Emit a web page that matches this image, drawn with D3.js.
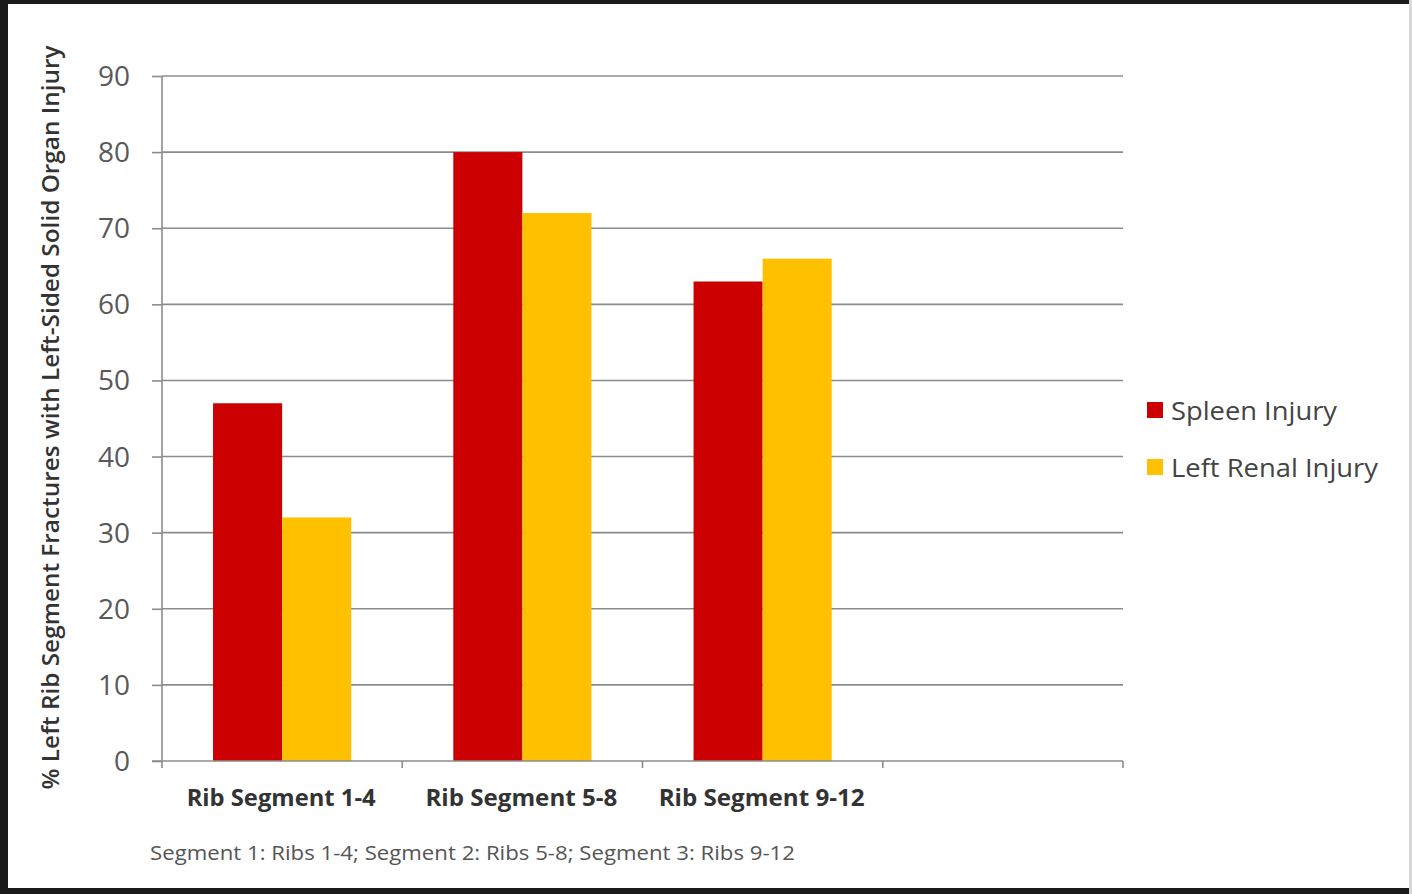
<!DOCTYPE html>
<html>
<head>
<meta charset="utf-8">
<script src="https://cdn.jsdelivr.net/npm/d3@7"></script>
<style>
  html, body { margin: 0; padding: 0; background: #fff; }
  svg { display: block; }
</style>
</head>
<body>
<svg id="chart" width="1412" height="894"></svg>
<script>
// Chart data
const categories = ["Rib Segment 1-4", "Rib Segment 5-8", "Rib Segment 9-12"];
const seriesNames = ["Spleen Injury", "Left Renal Injury"];
const spleenValues = [47, 80, 63];
const renalValues = [32, 72, 66];
const yTicks = [0, 10, 20, 30, 40, 50, 60, 70, 80, 90];
const seriesColors = ["#CC0000", "#FFC000"];
const yTitle = "% Left Rib Segment Fractures with Left-Sided Solid Organ Injury";
const footnote = "Segment 1: Ribs 1-4; Segment 2: Ribs 5-8; Segment 3: Ribs 9-12";

(function () {
const svg = d3.select("#chart");
const W = 1412, H = 894;
const font = "'Open Sans', 'Liberation Sans', sans-serif";

// Frame
svg.append("rect").attr("x", 0).attr("y", 0).attr("width", W).attr("height", H).attr("fill", "#fff");
svg.append("rect").attr("x", 0).attr("y", 0).attr("width", W).attr("height", 4).attr("fill", "#1a1a1a");
svg.append("rect").attr("x", 0).attr("y", 0).attr("width", 8).attr("height", H).attr("fill", "#1a1a1a");
svg.append("rect").attr("x", 0).attr("y", 888).attr("width", W).attr("height", 6).attr("fill", "#1a1a1a");
svg.append("rect").attr("x", 1409).attr("y", 0).attr("width", 3).attr("height", H).attr("fill", "#d8d8d8");

// Plot area: four category slots, the last one left empty
const plotLeft = 162, plotRight = 1123, plotTop = 76, plotBottom = 761;
const slot = (plotRight - plotLeft) / 4;

const x = d3.scaleBand().domain(categories).range([plotLeft, plotLeft + slot * categories.length]);
const xSub = d3.scaleBand().domain(seriesNames).range([0, x.bandwidth()]).paddingInner(0).paddingOuter(0.739);
const y = d3.scaleLinear().domain([0, 90]).range([plotBottom, plotTop]);

// Gridlines
svg.append("g").selectAll("line").data(yTicks.filter(d => d > 0)).join("line")
  .attr("x1", plotLeft).attr("x2", plotRight)
  .attr("y1", d => y(d)).attr("y2", d => y(d))
  .attr("stroke", "#8c8c8c").attr("stroke-width", 1.6);

// Bars
const rows = categories.map((c, i) => ({ cat: c, vals: [spleenValues[i], renalValues[i]] }));
const groups = svg.append("g").selectAll("g").data(rows).join("g")
  .attr("transform", d => `translate(${x(d.cat)},0)`);
groups.selectAll("rect").data(d => d.vals.map((v, j) => ({ name: seriesNames[j], v, j }))).join("rect")
  .attr("x", d => xSub(d.name))
  .attr("width", xSub.bandwidth())
  .attr("y", d => y(d.v))
  .attr("height", d => y(0) - y(d.v))
  .attr("fill", d => seriesColors[d.j]);

// Y axis
const yAxis = d3.axisLeft(y).tickValues(yTicks).tickSize(10).tickPadding(22);
const gy = svg.append("g").attr("transform", `translate(${plotLeft},0)`).call(yAxis);
gy.select(".domain").attr("stroke", "#8c8c8c").attr("stroke-width", 1.6).attr("d", `M0,${plotTop}V${plotBottom}`);
gy.selectAll(".tick line").attr("stroke", "#8c8c8c").attr("stroke-width", 1.6);
gy.selectAll(".tick text").attr("font-family", font).attr("font-size", 28).attr("fill", "#595959")
  .attr("dy", "0.34em");

// X axis baseline with slot boundary ticks
svg.append("line").attr("x1", plotLeft - 10).attr("x2", plotRight).attr("y1", plotBottom).attr("y2", plotBottom)
  .attr("stroke", "#8c8c8c").attr("stroke-width", 1.6);
const boundaries = d3.range(5).map(i => plotLeft + slot * i);
svg.append("g").selectAll("line").data(boundaries).join("line")
  .attr("x1", d => d).attr("x2", d => d).attr("y1", plotBottom).attr("y2", plotBottom + 7)
  .attr("stroke", "#8c8c8c").attr("stroke-width", 1.6);

// Category labels
const catWidths = [189, 192, 206];
svg.append("g").selectAll("text").data(categories).join("text")
  .attr("x", d => x(d) + x.bandwidth() / 2 - 1)
  .attr("y", 806)
  .attr("text-anchor", "middle")
  .attr("font-family", font).attr("font-weight", 700).attr("font-size", 23)
  .attr("fill", "#333")
  .attr("textLength", (d, i) => catWidths[i]).attr("lengthAdjust", "spacingAndGlyphs")
  .text(d => d);

// Y axis title
svg.append("text")
  .attr("transform", `translate(59,${(45 + 790) / 2}) rotate(-90)`)
  .attr("text-anchor", "middle")
  .attr("font-family", font).attr("font-weight", 600).attr("font-size", 23)
  .attr("fill", "#333")
  .attr("textLength", 744).attr("lengthAdjust", "spacingAndGlyphs")
  .text(yTitle);

// Legend
const legendWidths = [166, 207];
const legend = svg.append("g").selectAll("g").data(seriesNames).join("g")
  .attr("transform", (d, i) => `translate(1147,${402 + i * 57})`);
legend.append("rect").attr("width", 16).attr("height", 16).attr("fill", (d, i) => seriesColors[i]);
legend.append("text").attr("x", 24).attr("y", 18)
  .attr("font-family", font).attr("font-size", 25).attr("fill", "#444")
  .attr("textLength", (d, i) => legendWidths[i]).attr("lengthAdjust", "spacingAndGlyphs")
  .text(d => d);

// Footnote
svg.append("text").attr("x", 150).attr("y", 860)
  .attr("font-family", font).attr("font-size", 20).attr("fill", "#555")
  .attr("textLength", 645).attr("lengthAdjust", "spacingAndGlyphs")
  .text(footnote);
})();
</script>
</body>
</html>
